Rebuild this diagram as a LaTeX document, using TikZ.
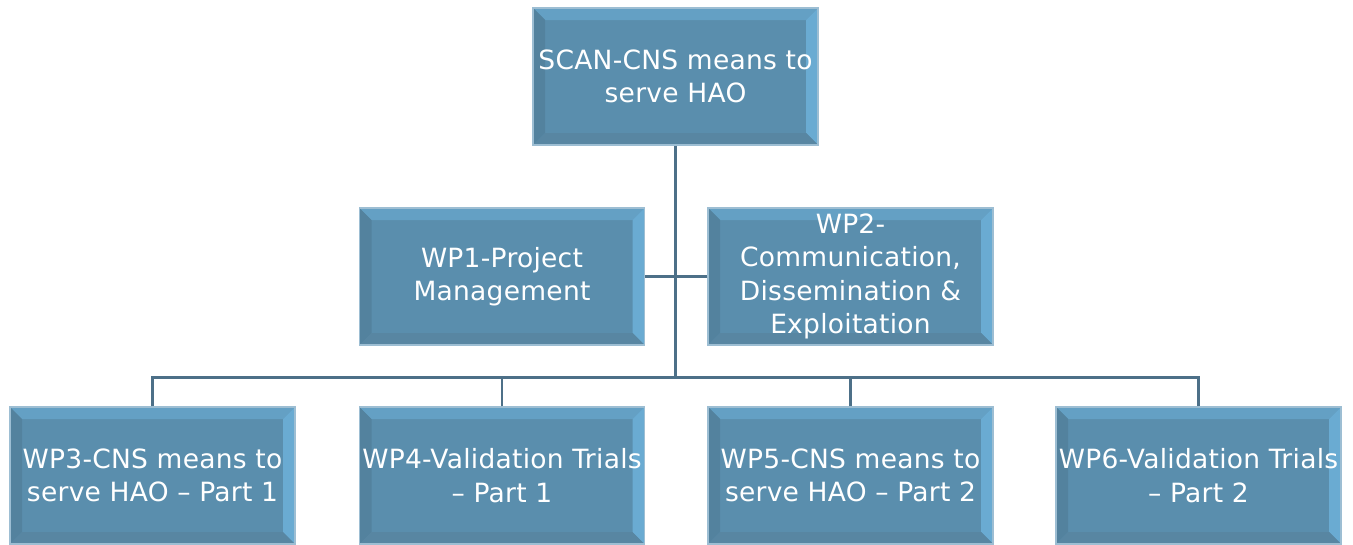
\documentclass[tikz,border=0pt]{standalone}
\usepackage{fontspec}
\setmainfont{DejaVu Sans}
\usetikzlibrary{calc}
\definecolor{boxfill}{HTML}{5A8EAD}
\definecolor{boxedge}{HTML}{9DBED3}
\definecolor{bevtop}{HTML}{64A0C4}
\definecolor{bevright}{HTML}{6AABD2}
\definecolor{bevleft}{HTML}{53829E}
\definecolor{bevbottom}{HTML}{5886A2}
\definecolor{linkcol}{HTML}{4D7088}
\newcommand*{\wpfont}{\fontsize{26.5}{33.5}\selectfont\addfontfeature{LetterSpace=1}}
\newcommand*{\pp}{path picture bounding box}

\tikzset{
 wpbox/.style={draw=boxedge, line width=1.2pt, fill=boxfill, text=white, font=\wpfont,
  minimum width=285pt, minimum height=137pt, inner sep=0pt, align=center,
  path picture={
   \fill[bevtop] (\pp.north west) -- (\pp.north east) -- ([shift={(-12pt,-12pt)}]\pp.north east) -- ([shift={(12pt,-12pt)}]\pp.north west) -- cycle;
   \fill[bevright] (\pp.north east) -- (\pp.south east) -- ([shift={(-12pt,12pt)}]\pp.south east) -- ([shift={(-12pt,-12pt)}]\pp.north east) -- cycle;
   \fill[bevleft] (\pp.north west) -- (\pp.south west) -- ([shift={(12pt,12pt)}]\pp.south west) -- ([shift={(12pt,-12pt)}]\pp.north west) -- cycle;
   \fill[bevbottom] (\pp.south west) -- (\pp.south east) -- ([shift={(-12pt,12pt)}]\pp.south east) -- ([shift={(12pt,12pt)}]\pp.south west) -- cycle;
  }},
 link/.style={draw=linkcol, line width=2.5pt}
}

\begin{document}
\begin{tikzpicture}[x=1pt, y=1pt]
 \useasboundingbox (0,0) rectangle (1353,-544);

 \node[wpbox] (scan) at (675.5,-76.5) {SCAN-CNS means to\\serve HAO};
 \node[wpbox] (wp1) at (502,-276.5) {WP1-Project\\Management};
 \node[wpbox] (wp2) at (850.5,-276.5) {WP2-\\Communication,\\Dissemination \&\\Exploitation};
 \node[wpbox] (wp3) at (152.5,-475.5) {WP3-CNS means to\\serve HAO -- Part 1};
 \node[wpbox] (wp4) at (502,-475.5) {WP4-Validation Trials\\-- Part 1};
 \node[wpbox] (wp5) at (850.5,-475.5) {WP5-CNS means to\\serve HAO -- Part 2};
 \node[wpbox] (wp6) at (1198.5,-475.5) {WP6-Validation Trials\\-- Part 2};

 \draw[link] (scan.south) -- ++(0,-232) coordinate (hub);
 \draw[link] (wp1.east) -- (wp1.east -| hub);
 \draw[link] (wp2.west) -- (wp2.west -| hub);
 \draw[link] (wp3.north) |- (hub) -| (wp6.north);
 \draw[link] (wp4.north) -- (wp4.north |- hub);
 \draw[link] (wp5.north) -- (wp5.north |- hub);
\end{tikzpicture}
\end{document}
